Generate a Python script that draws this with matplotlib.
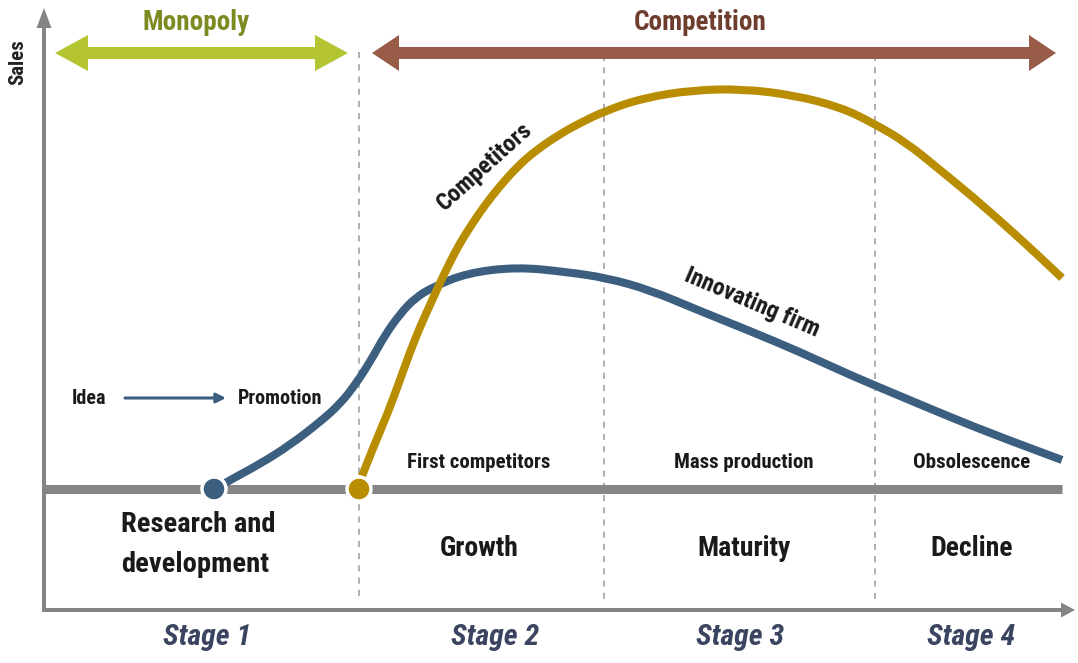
import matplotlib
matplotlib.use("Agg")
import matplotlib.pyplot as plt
from matplotlib.patches import FancyArrow, Circle, PathPatch
from matplotlib.path import Path
from matplotlib import font_manager

# ---------------- data ----------------
innovator_x = [215, 230, 260, 290, 320, 340, 355, 370, 385, 400, 415, 433, 467, 517, 567,
               607, 650, 700, 750, 800, 850, 900, 950, 1000, 1062]
innovator_sales = [0, 9, 25, 44, 67, 85, 104, 127, 154, 175, 191, 202, 216, 222, 217,
                   211, 199, 178, 158, 137, 114, 93, 72, 52, 29]

competitor_x = [362, 375, 387, 400, 410, 420, 430, 439, 450, 460, 472, 485, 500, 517, 535,
                560, 580, 605, 643, 693, 743, 793, 840, 873, 907, 940, 973, 1007, 1040, 1062]
competitor_sales = [13, 46, 74, 109, 137, 162, 184, 204, 227, 246, 265, 284, 303, 322, 338,
                    355, 366, 378, 391, 399, 400, 394, 382, 366, 346, 319, 292, 262, 232, 211]

stage_bounds = [359, 604, 875]
stage_labels = ["Stage 1", "Stage 2", "Stage 3", "Stage 4"]
stage_names = ["Growth", "Maturity", "Decline"]
stage_notes = ["First competitors", "Mass production", "Obsolescence"]

# ---------------- style ----------------
avail = {f.name for f in font_manager.fontManager.ttflist}
FAM = [f for f in ["Liberation Sans Narrow", "Roboto Condensed", "Roboto", "DejaVu Sans"]
       if f in avail] or ["DejaVu Sans"]
plt.rcParams['font.family'] = FAM

BLUE = "#3c5f80"
GOLD = "#b88d02"
GREY = "#858585"
GREEN = "#b5c532"
GREEN_T = "#7d8a22"
BROWN = "#995c48"
BROWN_T = "#6d3d2e"
STAGE_C = "#3b4460"
INK = "#1a1a1a"

W, H = 1078, 663
fig = plt.figure(figsize=(W / 100, H / 100), dpi=100)
ax = fig.add_axes([0, 0, 1, 1])
ax.set_xlim(0, W)
ax.set_ylim(489 - H, 489)
ax.axis("off")

# axes arrows
ax.add_patch(FancyArrow(44, -123, 0, 604, width=4, head_width=15, head_length=20,
                        length_includes_head=True, color=GREY, lw=0))
ax.add_patch(FancyArrow(42, -121, 1033, 0, width=4, head_width=15, head_length=14,
                        length_includes_head=True, color=GREY, lw=0))

# dashed stage boundaries
for i, xb in enumerate(stage_bounds):
    top = 437 if i == 0 else 434
    ax.plot([xb, xb], [top, -111], color="#9a9a9a", lw=1.1, ls=(0, (4, 4)), zorder=1)

# baseline
ax.plot([44, 1062], [0, 0], color=GREY, lw=6.5, solid_capstyle="butt", zorder=2)


def smooth_curve(xs, ys, color, z):
    """Quadratic Bezier path through midpoints, using the read points as controls."""
    pts = list(zip(xs, ys))
    verts = [pts[0]]
    codes = [Path.MOVETO]
    for i in range(1, len(pts) - 1):
        mid = ((pts[i][0] + pts[i + 1][0]) / 2, (pts[i][1] + pts[i + 1][1]) / 2)
        if i == len(pts) - 2:
            mid = pts[-1]
        verts += [pts[i], mid]
        codes += [Path.CURVE3, Path.CURVE3]
    ax.add_patch(PathPatch(Path(verts, codes), facecolor="none", edgecolor=color,
                           lw=5.8, capstyle="butt", joinstyle="round", zorder=z))


smooth_curve(innovator_x, innovator_sales, BLUE, 3)
smooth_curve(competitor_x, competitor_sales, GOLD, 4)

# dots
ax.add_patch(Circle((214, 0), 12, facecolor=BLUE, edgecolor="white", lw=2.5, zorder=5))
ax.add_patch(Circle((359, 0), 12, facecolor=GOLD, edgecolor="white", lw=2.5, zorder=5))


# double arrows
def double_arrow(x0, x1, y, color, hl):
    ax.add_patch(FancyArrow(x1 - hl, y, x0 - x1 + hl, 0, width=12, head_width=36,
                            head_length=hl, length_includes_head=True, color=color, lw=0,
                            zorder=3))
    ax.add_patch(FancyArrow(x0 + hl, y, x1 - x0 - hl, 0, width=12, head_width=36,
                            head_length=hl, length_includes_head=True, color=color, lw=0,
                            zorder=3))


double_arrow(55, 348, 436, GREEN, 33)
double_arrow(372, 1056, 436, BROWN, 27)

bold = dict(fontweight="bold")
ax.text(196, 466, "Monopoly", color=GREEN_T, fontsize=19.5, ha="center", va="center", **bold)
ax.text(700, 466, "Competition", color=BROWN_T, fontsize=19.5, ha="center", va="center", **bold)
ax.text(18, 427, "Sales", color="#222222", fontsize=15, rotation=90, ha="center", va="center", **bold)

# idea -> promotion
ax.text(89, 91, "Idea", fontsize=14.5, ha="center", va="center", color=INK, **bold)
ax.annotate("", xy=(226, 91), xytext=(125, 91),
            arrowprops=dict(arrowstyle="-|>", color=BLUE, lw=2.2, mutation_scale=14,
                            shrinkA=0, shrinkB=0))
ax.text(280, 91, "Promotion", fontsize=14.5, ha="center", va="center", color=INK, **bold)

# stage notes and names
note_x = [479, 744, 972]
for xn, note in zip(note_x, stage_notes):
    ax.text(xn, 26, note, fontsize=15, ha="center", va="center", color=INK, **bold)
for xn, name in zip(note_x, stage_names):
    ax.text(xn, -60, name, fontsize=20, ha="center", va="center", color=INK, **bold)
ax.text(121, -36, "Research and", fontsize=20.5, ha="left", va="center", color=INK, **bold)
ax.text(121, -76, "development", fontsize=20.5, ha="left", va="center", color=INK, **bold)

stage_x = [207, 495, 740, 971]
for xs, lab in zip(stage_x, stage_labels):
    ax.text(xs, -148, lab, fontsize=21.5, ha="center", va="center", color=STAGE_C,
            fontstyle="italic", **bold)

# curve labels
ax.text(485, 323, "Competitors", fontsize=17.5, rotation=42, ha="center", va="center",
        color=INK, rotation_mode="anchor", **bold)
ax.text(752, 186, "Innovating firm", fontsize=17, rotation=-23, ha="center", va="center",
        color=INK, rotation_mode="anchor", **bold)

fig.savefig("out.png", dpi=100)
